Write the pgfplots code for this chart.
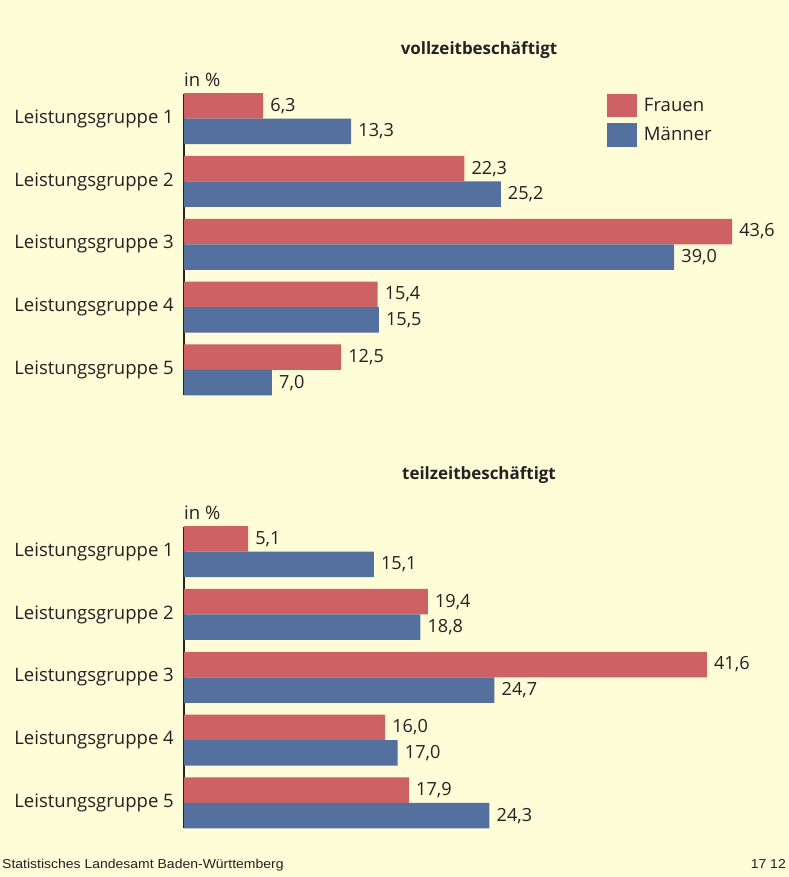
\documentclass[border=0pt]{standalone}
\usepackage{pgfplots}
\pgfplotsset{compat=1.18}
\usepackage{fontspec}
\setmainfont{Open Sans}
\newfontfamily\narrowfont[FakeStretch=1.08]{Liberation Sans}
\definecolor{bg}{HTML}{FFFCD8}
\definecolor{frauen}{HTML}{CD6164}
\definecolor{maenner}{HTML}{53709E}
\definecolor{txt}{HTML}{222222}
\newcommand{\lblfont}{\fontsize{18.6}{21}\selectfont}
\newcommand{\numfont}{\fontsize{18.2}{21}\selectfont}
\pgfplotsset{
  panel/.style={
    xbar, x=12.57bp, y=62.8bp,
    xmin=0, xmax=48, ymin=0.6, ymax=5.4,
    anchor=south west,
    axis y line*=left, axis x line=none,
    y axis line style={draw=txt, line width=1.2bp},
    ytick={1,2,3,4,5},
    yticklabels={Leistungsgruppe 5,Leistungsgruppe 4,Leistungsgruppe 3,Leistungsgruppe 2,Leistungsgruppe 1},
    major tick length=0pt,
    yticklabel style={font=\lblfont, text=txt, inner sep=0pt, xshift=-10bp},
    bar width=25.5bp,
    nodes near coords={\pgfmathprintnumber[fixed,fixed zerofill,precision=1,use comma,assume math mode=true]{\pgfplotspointmeta}},
    point meta=x,
    nodes near coords align=horizontal,
    every node near coord/.append style={font=\numfont, text=txt, anchor=west, inner sep=0pt, xshift=7bp},
    clip=false,
  }
}
\begin{document}
\begin{tikzpicture}
\fill[bg] (0,0) rectangle (789bp,877bp);
% top panel
\begin{axis}[panel, at={(184bp,482bp)},
  legend style={at={(0.701,1)}, anchor=north west, draw=none, fill=none, inner sep=0pt, outer sep=0pt,
    row sep=6bp, column sep=7bp, font=\lblfont, text=txt, nodes={inner sep=0pt}},
  legend cell align=left,
  legend image code/.code={\fill[#1,draw=none] (0bp,-11.75bp) rectangle (30bp,11.75bp);},
]
\addplot[fill=frauen, draw=none, bar shift=12.75bp] coordinates {(6.3,5) (22.3,4) (43.6,3) (15.4,2) (12.5,1)};
\addplot[fill=maenner, draw=none, bar shift=-12.75bp] coordinates {(13.3,5) (25.2,4) (39.0,3) (15.5,2) (7.0,1)};
\legend{Frauen, Männer}
\node[anchor=base west, inner sep=0pt, font=\lblfont, text=txt, yshift=7bp] at (rel axis cs:0,1) {in \%};
\end{axis}
% bottom panel
\begin{axis}[panel, at={(184bp,49bp)}]
\addplot[fill=frauen, draw=none, bar shift=12.75bp] coordinates {(5.1,5) (19.4,4) (41.6,3) (16.0,2) (17.9,1)};
\addplot[fill=maenner, draw=none, bar shift=-12.75bp] coordinates {(15.1,5) (18.8,4) (24.7,3) (17.0,2) (24.3,1)};
\node[anchor=base west, inner sep=0pt, font=\lblfont, text=txt, yshift=7bp] at (rel axis cs:0,1) {in \%};
\end{axis}
\node[anchor=base, inner sep=0pt, font=\bfseries\fontsize{17}{20}\selectfont, text=txt] at (479bp,822bp) {vollzeitbeschäftigt};
\node[anchor=base, inner sep=0pt, font=\bfseries\fontsize{17}{20}\selectfont, text=txt] at (479bp,397bp) {teilzeitbeschäftigt};
\node[anchor=base west, inner sep=0pt, font=\narrowfont\fontsize{13}{15}\selectfont, text=txt] at (2bp,9bp) {Statistisches Landesamt Baden-Württemberg};
\node[anchor=base east, inner sep=0pt, font=\narrowfont\fontsize{13}{15}\selectfont, text=txt] at (786bp,9bp) {17 12};
\end{tikzpicture}
\end{document}
